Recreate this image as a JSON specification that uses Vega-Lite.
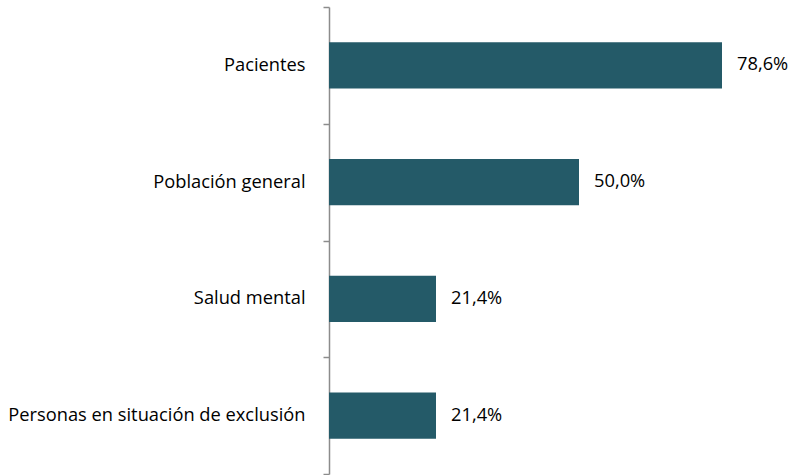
{
  "$schema": "https://vega.github.io/schema/vega-lite/v6.json",
  "autosize": {"type": "none"},
  "width": 465,
  "height": 467,
  "padding": {"left": 329, "top": 7, "right": 0, "bottom": 1},
  "background": "white",
  "config": {"view": {"stroke": null}, "font": "Open Sans"},
  "data": {
    "values": [
      {"categoria": "Pacientes", "valor": 78.6, "etiqueta": "78,6%"},
      {"categoria": "Población general", "valor": 50.0, "etiqueta": "50,0%"},
      {"categoria": "Salud mental", "valor": 21.4, "etiqueta": "21,4%"},
      {"categoria": "Personas en situación de exclusión", "valor": 21.4, "etiqueta": "21,4%"}
    ]
  },
  "encoding": {
    "y": {
      "field": "categoria",
      "type": "nominal",
      "sort": null,
      "scale": {"paddingInner": 0, "paddingOuter": 0},
      "axis": {
        "title": null,
        "tickBand": "extent",
        "domainColor": "#8c8c8c",
        "domainWidth": 1.5,
        "tickColor": "#8c8c8c",
        "tickWidth": 1.5,
        "tickSize": 6,
        "labelPadding": 18,
        "labelFontSize": 18.3,
        "labelColor": "#000000",
        "labelFont": "Open Sans",
        "labelLimit": 340
      }
    },
    "x": {
      "field": "valor",
      "type": "quantitative",
      "scale": {"domain": [0, 93]},
      "axis": null
    }
  },
  "layer": [
    {"mark": {"type": "bar", "color": "#245A68", "height": {"band": 0.395}}},
    {
      "mark": {"type": "text", "align": "left", "baseline": "middle", "dx": 15, "fontSize": 18.3, "color": "#000000", "font": "Open Sans"},
      "encoding": {"text": {"field": "etiqueta"}}
    }
  ]
}
